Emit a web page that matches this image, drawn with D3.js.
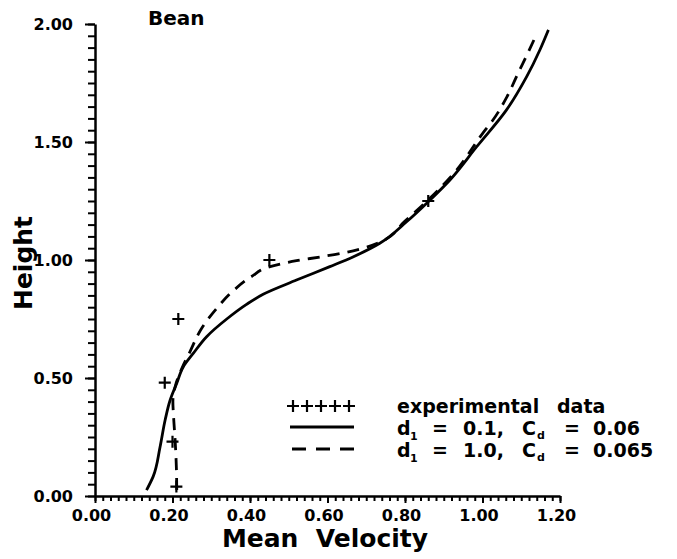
<!DOCTYPE html>
<html>
<head>
<meta charset="utf-8">
<script src="https://cdn.jsdelivr.net/npm/d3@7"></script>
<style>
  html, body { margin: 0; padding: 0; background: #fff; }
  svg { display: block; }
  text { font-family: "DejaVu Sans", sans-serif; fill: #000; }
</style>
</head>
<body>
<script>
// Model curve: d1 = 0.1, Cd = 0.06
const solidVelocity = [0.133, 0.150, 0.168, 0.181, 0.194, 0.211, 0.228, 0.254, 0.288, 0.340, 0.391, 0.434,
  0.520, 0.606, 0.667, 0.735, 0.804, 0.860, 0.916, 0.985, 1.062, 1.114, 1.148, 1.170];
const solidHeight = [0.025, 0.082, 0.209, 0.322, 0.407, 0.478, 0.548, 0.605, 0.675, 0.750, 0.812, 0.855,
  0.915, 0.972, 1.014, 1.071, 1.162, 1.247, 1.339, 1.480, 1.636, 1.777, 1.890, 1.975];

// Model curve: d1 = 1.0, Cd = 0.065
const dashedVelocity = [0.211, 0.210, 0.207, 0.203, 0.201, 0.208, 0.224, 0.245, 0.275, 0.314, 0.357, 0.404,
  0.452, 0.520, 0.581, 0.641, 0.692, 0.735, 0.800, 0.860, 0.930, 1.001, 1.027, 1.063, 1.092, 1.117, 1.141];
const dashedHeight = [0.025, 0.120, 0.230, 0.330, 0.400, 0.470, 0.540, 0.611, 0.710, 0.795, 0.870, 0.930,
  0.972, 0.997, 1.013, 1.030, 1.050, 1.075, 1.165, 1.255, 1.375, 1.538, 1.593, 1.691, 1.792, 1.877, 1.962];

// Measured points
const expVelocity = [0.21, 0.20, 0.18, 0.215, 0.45, 0.86];
const expHeight = [0.04, 0.23, 0.48, 0.75, 1.00, 1.25];

const xTicks = [0.0, 0.2, 0.4, 0.6, 0.8, 1.0, 1.2];
const yTicks = [0.0, 0.5, 1.0, 1.5, 2.0];

const W = 677, H = 559;
const svg = d3.select("body").append("svg").attr("width", W).attr("height", H);

const x = d3.scaleLinear().domain([0, 1.2]).range([95, 560]);
const y = d3.scaleLinear().domain([0, 2]).range([496, 24]);

// ---- axes ----
const fmt = d3.format(".2f");
const xMinor = d3.range(0, 1.2001, 0.02);
const yMinor = d3.range(0, 2.0001, 0.05);

const gx = svg.append("g").attr("transform", `translate(0,${y(0)})`);
gx.call(d3.axisBottom(x).tickValues(xMinor).tickSize(5).tickSizeOuter(0).tickFormat(""));
gx.append("g").call(d3.axisBottom(x).tickValues(xTicks).tickSize(7).tickSizeOuter(0).tickFormat(fmt))
  .call(g => g.select(".domain").remove());
gx.selectAll("text").attr("y", 14).attr("dx", -4)
  .style("font-size", "16px").style("font-weight", "bold").style("font-family", "DejaVu Sans");

const gy = svg.append("g").attr("transform", `translate(${x(0)},0)`);
gy.call(d3.axisLeft(y).tickValues(yMinor).tickSize(7).tickSizeOuter(0).tickFormat(""));
gy.append("g").call(d3.axisLeft(y).tickValues(yTicks).tickSize(10).tickSizeOuter(0).tickFormat(fmt))
  .call(g => g.select(".domain").remove());
gy.selectAll("text").attr("x", -22)
  .style("font-size", "16px").style("font-weight", "bold").style("font-family", "DejaVu Sans");

svg.selectAll(".domain").attr("stroke", "#000").attr("stroke-width", 2.5);
svg.selectAll(".tick line").attr("stroke", "#000").attr("stroke-width", 2);

// ---- axis titles ----
svg.append("text").attr("x", 325).attr("y", 547).attr("text-anchor", "middle")
  .style("font-size", "25px").style("font-weight", "bold")
  .attr("xml:space", "preserve").text("Mean  Velocity");

svg.append("text").attr("transform", "translate(32,263) rotate(-90)").attr("text-anchor", "middle")
  .style("font-size", "25px").style("font-weight", "bold").text("Height");

svg.append("text").attr("x", 148).attr("y", 25)
  .style("font-size", "20px").style("font-weight", "bold").text("Bean");

// ---- curves ----
const line = d3.line().x(d => x(d[0])).y(d => y(d[1])).curve(d3.curveMonotoneY);
const solidPts = solidVelocity.map((v, i) => [v, solidHeight[i]]);
const dashedPts = dashedVelocity.map((v, i) => [v, dashedHeight[i]]);

svg.append("path").datum(solidPts).attr("d", line)
  .attr("fill", "none").attr("stroke", "#000").attr("stroke-width", 2.8);
svg.append("path").datum(dashedPts).attr("d", line)
  .attr("fill", "none").attr("stroke", "#000").attr("stroke-width", 2.8)
  .attr("stroke-dasharray", "12,8");

// ---- experimental markers ----
function drawPlus(g, cx, cy, s) {
  g.append("path")
    .attr("d", `M${cx - s},${cy}H${cx + s}M${cx},${cy - s}V${cy + s}`)
    .attr("stroke", "#000").attr("stroke-width", 2.2).attr("fill", "none");
}
const gm = svg.append("g");
expVelocity.forEach((v, i) => drawPlus(gm, x(v), y(expHeight[i]), 6));

// ---- legend ----
const lg = svg.append("g");
for (let k = 0; k < 5; k++) drawPlus(lg, 293 + k * 14, 406, 6);
lg.append("line").attr("x1", 290).attr("x2", 354).attr("y1", 427).attr("y2", 427)
  .attr("stroke", "#000").attr("stroke-width", 2.8);
lg.append("line").attr("x1", 292).attr("x2", 354).attr("y1", 449).attr("y2", 449)
  .attr("stroke", "#000").attr("stroke-width", 2.8).attr("stroke-dasharray", "14,10");

function ltext(xp, yp, s, size) {
  return lg.append("text").attr("x", xp).attr("y", yp)
    .style("font-size", (size || 19) + "px").style("font-weight", "bold").text(s);
}
ltext(397, 413, "experimental");
ltext(557, 413, "data");

function paramRow(yp, d1, cd) {
  ltext(397, yp, "d");
  ltext(410, yp + 5, "1", 11);
  ltext(432, yp, "=");
  ltext(463, yp, d1);
  ltext(522, yp, "C");
  ltext(537, yp + 4, "d", 11);
  ltext(564, yp, "=");
  ltext(593, yp, cd);
}
paramRow(435, "0.1,", "0.06");
paramRow(457, "1.0,", "0.065");
</script>
</body>
</html>
